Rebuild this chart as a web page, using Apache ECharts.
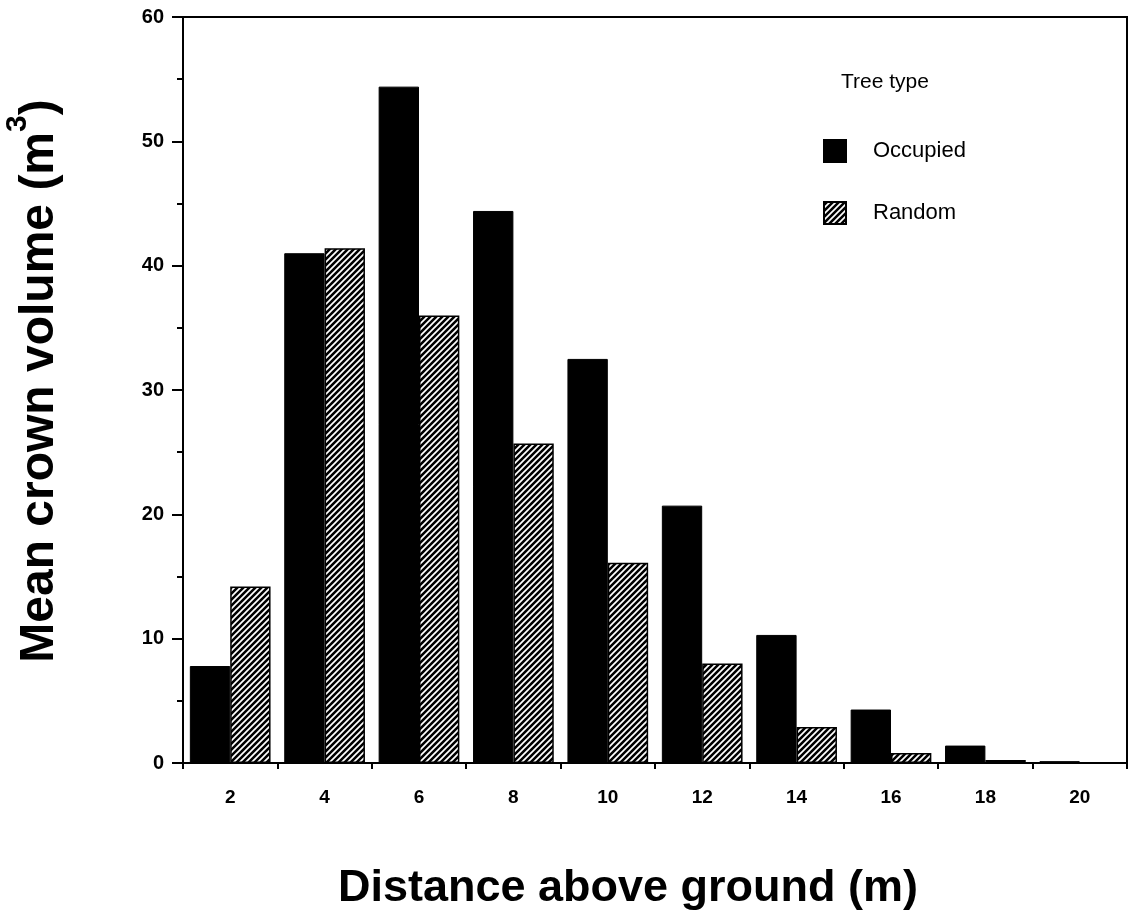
<!DOCTYPE html>
<html>
<head>
<meta charset="utf-8">
<script src="https://cdn.jsdelivr.net/npm/echarts@6/dist/echarts.min.js"></script>
<style>html,body{margin:0;padding:0;background:#fff;}#c{width:1134px;height:913px;}</style>
</head>
<body>
<div id="c"></div>
<script>
var categories = ['2','4','6','8','10','12','14','16','18','20'];
var occupied = [7.8, 41.0, 54.4, 44.4, 32.5, 20.7, 10.3, 4.3, 1.4, 0.15];
var random = [14.2, 41.4, 36.0, 25.7, 16.1, 8.0, 2.9, 0.8, 0.25, 0.05];
var yTicks = [0, 10, 20, 30, 40, 50, 60];

function makeHatch() {
  var c = document.createElement('canvas');
  var s = 6;
  c.width = s; c.height = s;
  var g = c.getContext('2d');
  g.fillStyle = '#000';
  g.fillRect(0, 0, s, s);
  g.strokeStyle = '#fff';
  g.lineWidth = 1.7;
  g.beginPath();
  g.moveTo(0, s); g.lineTo(s, 0);
  g.moveTo(-s/2, s/2); g.lineTo(s/2, -s/2);
  g.moveTo(s/2, s*1.5); g.lineTo(s*1.5, s/2);
  g.stroke();
  return c;
}
var hatch = {image: makeHatch(), repeat: 'repeat'};
var FONT = 'Liberation Sans';

var chart = echarts.init(document.getElementById('c'));
chart.setOption({
  animation: false,
  backgroundColor: '#fff',
  title: {
    text: 'Tree type', left: 841, top: 72, padding: 0,
    textStyle: {fontFamily: FONT, fontSize: 21, fontWeight: 'normal', color: '#000'}
  },
  legend: {
    orient: 'vertical', left: 823, top: 139, padding: 0, itemWidth: 22, itemHeight: 22, itemGap: 38,
    icon: 'rect',
    textStyle: {fontFamily: FONT, fontSize: 22, color: '#000', padding: [0, 0, 0, 22]},
    data: ['Occupied', 'Random']
  },
  grid: {left: 183, right: 7, top: 17, bottom: 150, outerBoundsMode: 'none', containLabel: false,
    show: true, borderColor: '#000', borderWidth: 2, backgroundColor: 'transparent'},
  xAxis: {
    type: 'category', data: categories, boundaryGap: true,
    name: 'Distance above ground (m)', nameLocation: 'middle', nameGap: 103,
    nameTextStyle: {fontFamily: FONT, fontSize: 45, fontWeight: 'bold', color: '#000', padding: [0, 54, 0, 0]},
    axisLine: {lineStyle: {color: '#000', width: 2}},
    axisTick: {show: true, length: 6, alignWithLabel: false, lineStyle: {color: '#000', width: 2}},
    axisLabel: {fontFamily: FONT, fontSize: 19, fontWeight: 'bold', color: '#000', margin: 25}
  },
  yAxis: {
    type: 'value', min: yTicks[0], max: yTicks[yTicks.length - 1], interval: 10,
    name: 'Mean crown volume (m{s|3})', nameLocation: 'middle', nameRotate: 90, nameGap: 106,
    nameTextStyle: {fontFamily: FONT, fontSize: 48, fontWeight: 'bold', color: '#000', padding: [0, 0, 0, 18],
      rich: {s: {fontFamily: FONT, fontSize: 30, fontWeight: 'bold', color: '#000', verticalAlign: 'top', padding: [0, 0, 44, 0]}}},
    axisLine: {show: true, lineStyle: {color: '#000', width: 2}},
    axisTick: {show: true, length: 11, lineStyle: {color: '#000', width: 2}},
    minorTick: {show: true, splitNumber: 2, length: 6, lineStyle: {color: '#000', width: 2}},
    splitLine: {show: false},
    axisLabel: {fontFamily: FONT, fontSize: 20, fontWeight: 'bold', color: '#000', margin: 19}
  },
  series: [
    {name: 'Occupied', type: 'bar', data: occupied, barGap: '0%', barCategoryGap: '14.5%',
      itemStyle: {color: '#000', borderColor: '#000', borderWidth: 1}},
    {name: 'Random', type: 'bar', data: random, barGap: '0%', barCategoryGap: '14.5%',
      itemStyle: {color: hatch, borderColor: '#000', borderWidth: 1.5}}
  ]
});
</script>
</body>
</html>
